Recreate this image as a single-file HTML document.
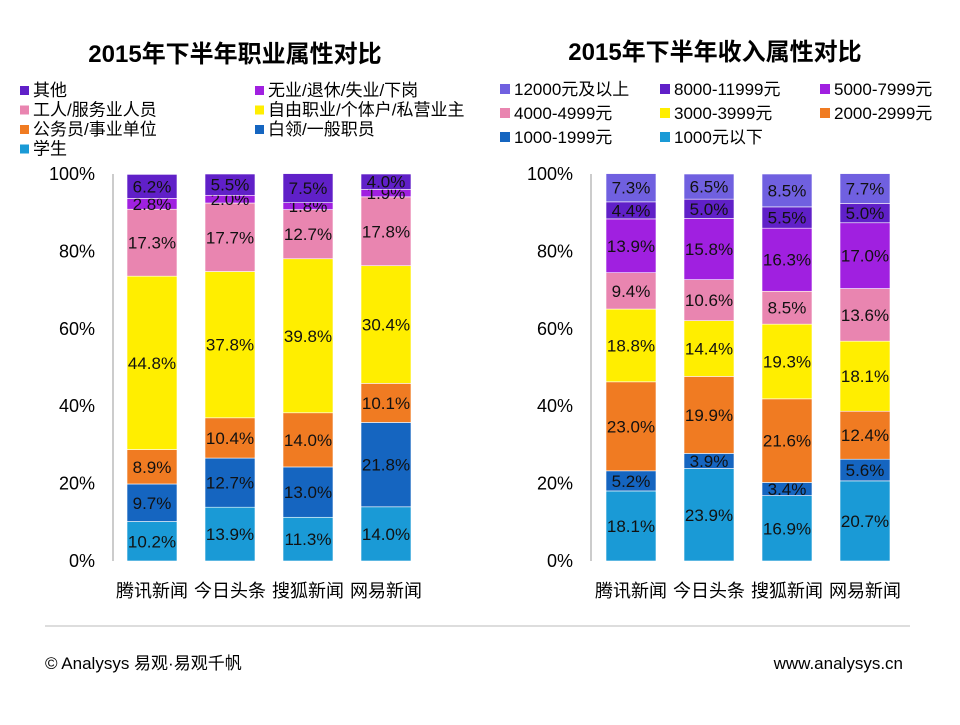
<!DOCTYPE html>
<html><head><meta charset="utf-8"><style>
body{margin:0;background:#fff;}
svg text{font-family:"Liberation Sans","Noto Sans CJK SC",sans-serif;}
</style></head><body>
<svg id="s" width="960" height="720" xmlns="http://www.w3.org/2000/svg">
<text x="235" y="62" font-size="24" font-weight="bold" text-anchor="middle">2015年下半年职业属性对比</text>
<text x="715" y="60" font-size="24" font-weight="bold" text-anchor="middle">2015年下半年收入属性对比</text>
<line x1="45" y1="626" x2="910" y2="626" stroke="#bbb" stroke-width="1"/>
<text x="45" y="669" font-size="17">© Analysys 易观·易观千帆</text>
<text x="903" y="669" font-size="17" text-anchor="end">www.analysys.cn</text>
</svg>
<script>
const categories=["腾讯新闻","今日头条","搜狐新闻","网易新闻"];
const leftSeries=["学生","白领/一般职员","公务员/事业单位","自由职业/个体户/私营业主","工人/服务业人员","无业/退休/失业/下岗","其他"];
const leftColors=["#1a9ad6","#1565c0","#f07b22","#ffee00","#e985b0","#a020e0","#6020c8"];
const leftValues=[[10.2,9.7,8.9,44.8,17.3,2.8,6.2],[13.9,12.7,10.4,37.8,17.7,2.0,5.5],[11.3,13.0,14.0,39.8,12.7,1.8,7.5],[14.0,21.8,10.1,30.4,17.8,1.9,4.0]];
const rightSeries=["1000元以下","1000-1999元","2000-2999元","3000-3999元","4000-4999元","5000-7999元","8000-11999元","12000元及以上"];
const rightColors=["#1a9ad6","#1565c0","#f07b22","#ffee00","#e985b0","#a020e0","#6020c8","#7060e0"];
const rightValues=[[18.1,5.2,23.0,18.8,9.4,13.9,4.4,7.3],[23.9,3.9,19.9,14.4,10.6,15.8,5.0,6.5],[16.9,3.4,21.6,19.3,8.5,16.3,5.5,8.5],[20.7,5.6,12.4,18.1,13.6,17.0,5.0,7.7]];
const yTicks=[0,20,40,60,80,100];
const svg=document.getElementById('s');
const NS="http://www.w3.org/2000/svg";
function mk(t,a){const e=document.createElementNS(NS,t);for(const k in a)e.setAttribute(k,a[k]);svg.appendChild(e);return e;}
const y0=561,y1=174;
const yS=v=>y0-(y0-y1)*v/100;
function chart(p,axisX,barX0,vals,colors){
  const ax=mk('line',{x1:axisX,y1:y1,x2:axisX,y2:y0,stroke:'#999'});
  
  
  yTicks.forEach(t=>{const e=mk('text',{x:axisX-18,y:yS(t)+6,'font-size':18,'text-anchor':'end'});e.textContent=t+'%';
    
    });
  categories.forEach((c,i)=>{
    const bx=barX0+i*78;let acc=0;
    vals[i].forEach((v,j)=>{
      const top=yS(acc+v),bot=yS(acc);acc+=v;
      const r=mk('rect',{x:bx,y:top,width:50,height:bot-top,fill:colors[j],stroke:'#fff','stroke-width':0.6});
      
      
      const t=mk('text',{x:bx+25,y:(top+bot)/2+6,'font-size':17,'text-anchor':'middle',fill:'#111'});t.textContent=v.toFixed(1)+'%';
      
      
    });
    const l=mk('text',{x:bx+25,y:597,'font-size':18,'text-anchor':'middle'});l.textContent=c;
    
    
  });
}
chart('left',113,127,leftValues,leftColors);
chart('right',591,606,rightValues,rightColors);
const lOrder=[[6,0,0],[5,235,0],[4,0,1],[3,235,1],[2,0,2],[1,235,2],[0,0,3]];
lOrder.forEach(([k,dx,r])=>{
  const x=20+dx,y=96+r*19.5;
  const s=mk('rect',{x:x,y:y-10,width:9,height:9,fill:leftColors[k]});
  
  
  const t=mk('text',{x:x+13,y:y,'font-size':17});t.textContent=leftSeries[k];
  
  
});
const rOrder=[[7,0,0],[6,160,0],[5,320,0],[4,0,1],[3,160,1],[2,320,1],[1,0,2],[0,160,2]];
rOrder.forEach(([k,dx,r])=>{
  const x=500+dx,y=95+r*24;
  const s=mk('rect',{x:x,y:y-11,width:10,height:10,fill:rightColors[k]});
  
  
  const t=mk('text',{x:x+14,y:y,'font-size':17});t.textContent=rightSeries[k];
  
  
});
</script>
</body></html>
